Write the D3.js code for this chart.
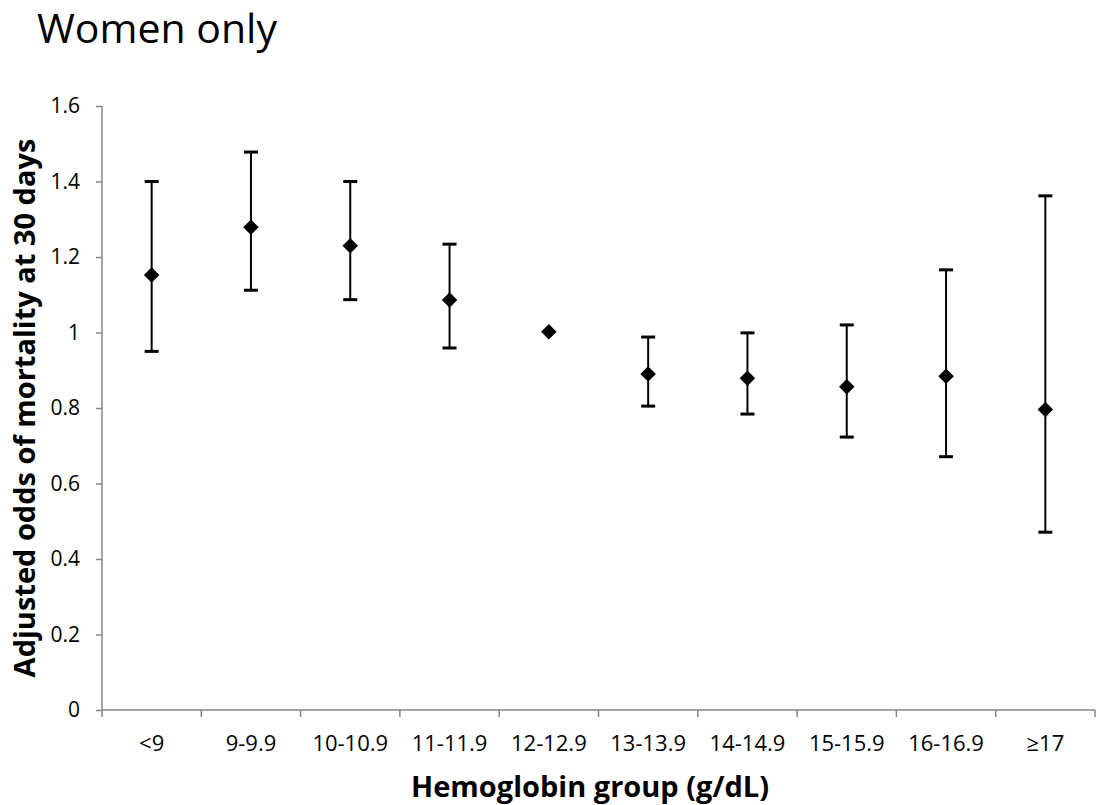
<!DOCTYPE html>
<html><head><meta charset="utf-8">
<script src="https://cdn.jsdelivr.net/npm/d3@7"></script>
<style>body{margin:0;background:#fff}</style>
</head><body>
<svg id="c" width="1097" height="805"></svg>
<script>
const categories = ["<9","9-9.9","10-10.9","11-11.9","12-12.9","13-13.9","14-14.9","15-15.9","16-16.9","≥17"];
const oddsRatio = [1.152,1.279,1.230,1.086,1.002,0.890,0.879,0.856,0.884,0.796];
const ciLower   = [0.950,1.112,1.087,0.959,null,0.805,0.784,0.723,0.671,0.471];
const ciUpper   = [1.400,1.478,1.400,1.234,null,0.988,0.999,1.020,1.166,1.362];
const yTicks = [0,0.2,0.4,0.6,0.8,1,1.2,1.4,1.6];

(function(){
const svg = d3.select("#c");
const mLeft = 102, mRight = 1095, mTop = 106, mBottom = 710;
const font = "'Open Sans', sans-serif";

const x = d3.scaleBand().domain(categories).range([mLeft, mRight]);
const y = d3.scaleLinear().domain([0,1.6]).range([mBottom, mTop]);

// Title
svg.append("text").attr("x",37).attr("y",43).attr("font-family",font)
  .attr("font-size",41).attr("fill","#000").text("Women only");

// Y axis
const ya = svg.append("g").attr("transform",`translate(${mLeft},0)`)
  .call(d3.axisLeft(y).tickValues(yTicks).tickSize(6).tickPadding(16).tickFormat(d=>d3.format("~g")(d)));
ya.selectAll("path,line").attr("stroke","#868686").attr("stroke-width",1.5);
ya.selectAll("text").attr("font-family",font).attr("font-size",21).attr("fill","#000");
ya.select(".domain").attr("d",`M0,${mTop}V${mBottom}`);

// X axis
const xa = svg.append("g").attr("transform",`translate(0,${mBottom})`)
  .call(d3.axisBottom(x).tickSize(0).tickPadding(25));
xa.selectAll("path").attr("stroke","#868686").attr("stroke-width",1.5);
xa.select(".domain").attr("d",`M${mLeft},0H${mRight}`);
xa.selectAll("text").attr("font-family",font).attr("font-size",22).attr("fill","#000");
const bounds = categories.map(c=>x(c)).concat([x(categories[categories.length-1])+x.bandwidth()]);
xa.selectAll("line.bt").data(bounds).enter().append("line").attr("class","bt")
  .attr("x1",d=>d).attr("x2",d=>d).attr("y1",0).attr("y2",7)
  .attr("stroke","#868686").attr("stroke-width",1.5);

// Axis titles
svg.append("text").attr("transform","translate(35,408) rotate(-90)").attr("text-anchor","middle")
  .attr("font-family",font).attr("font-weight","bold").attr("font-size",29).attr("fill","#000")
  .text("Adjusted odds of mortality at 30 days");
svg.append("text").attr("x",590).attr("y",797).attr("text-anchor","middle")
  .attr("font-family",font).attr("font-weight","bold").attr("font-size",29).attr("fill","#000")
  .text("Hemoglobin group (g/dL)");

// Error bars
const data = categories.map((c,i)=>({c, v:oddsRatio[i], lo:ciLower[i], hi:ciUpper[i]}));
const cx = d => x(d.c) + x.bandwidth()/2;
const eb = svg.append("g").selectAll("g").data(data.filter(d=>d.lo!=null)).enter().append("g");
eb.append("line").attr("x1",cx).attr("x2",cx).attr("y1",d=>y(d.lo)).attr("y2",d=>y(d.hi))
  .attr("stroke","#000").attr("stroke-width",2);
eb.append("line").attr("x1",d=>cx(d)-7).attr("x2",d=>cx(d)+7).attr("y1",d=>y(d.lo)).attr("y2",d=>y(d.lo))
  .attr("stroke","#000").attr("stroke-width",3);
eb.append("line").attr("x1",d=>cx(d)-7).attr("x2",d=>cx(d)+7).attr("y1",d=>y(d.hi)).attr("y2",d=>y(d.hi))
  .attr("stroke","#000").attr("stroke-width",3);

// Diamonds
svg.append("g").selectAll("path").data(data).enter().append("path")
  .attr("transform",d=>`translate(${cx(d)},${y(d.v)}) rotate(45)`)
  .attr("d", d3.symbol().type(d3.symbolSquare).size(120)).attr("fill","#000");
})();
</script>
</body></html>
